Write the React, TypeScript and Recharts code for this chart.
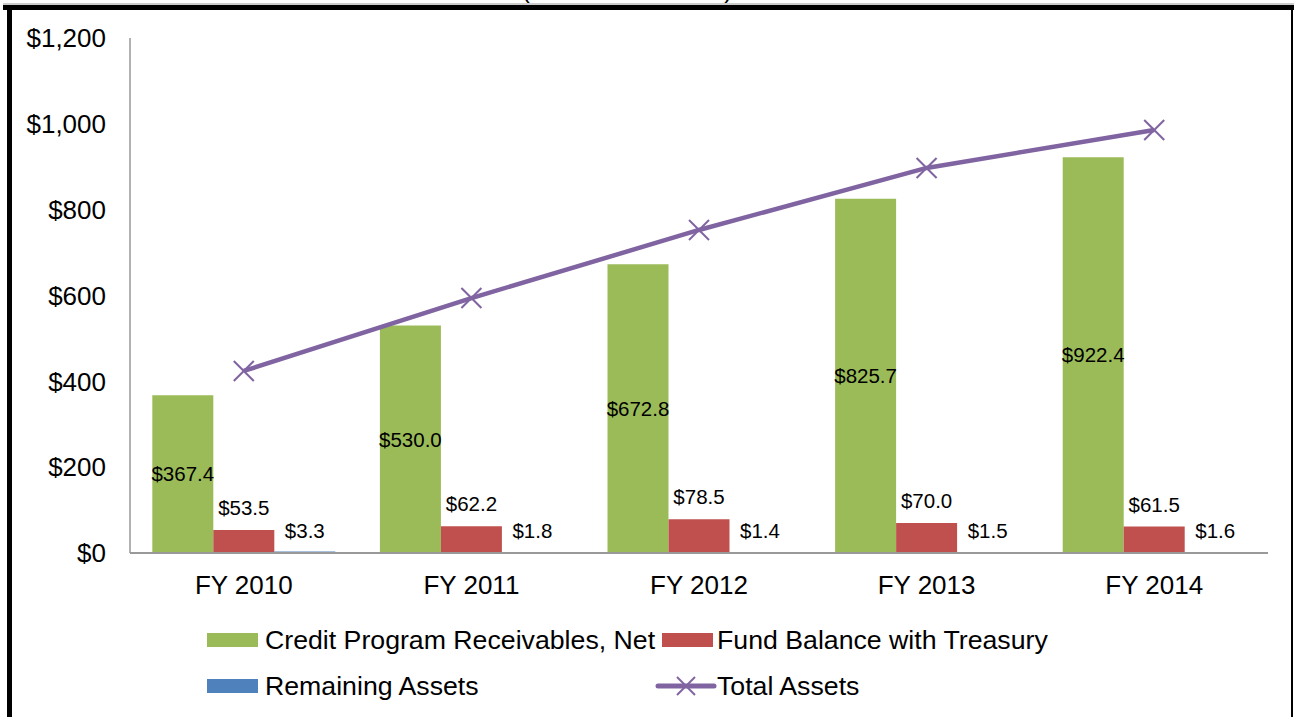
import React from 'react';
import { ComposedChart, Bar, Line, XAxis, YAxis, LabelList, Legend } from 'recharts';

const categories = ['FY 2010', 'FY 2011', 'FY 2012', 'FY 2013', 'FY 2014'];
const creditReceivables = [367.4, 530.0, 672.8, 825.7, 922.4];
const fundBalance = [53.5, 62.2, 78.5, 70.0, 61.5];
const remainingAssets = [3.3, 1.8, 1.4, 1.5, 1.6];
const totalAssets = [424.2, 594.0, 752.7, 897.2, 985.5];
const yTicks = [0, 200, 400, 600, 800, 1000, 1200];

const seriesNames = {
  credit: 'Credit Program Receivables, Net',
  fund: 'Fund Balance with Treasury',
  remaining: 'Remaining Assets',
  total: 'Total Assets',
};

const COLORS = {
  credit: '#9BBB59',
  fund: '#C0504D',
  remaining: '#4F81BD',
  total: '#8064A2',
};

const data = categories.map((c, i) => ({
  name: c,
  credit: creditReceivables[i],
  fund: fundBalance[i],
  remaining: remainingAssets[i],
  total: totalAssets[i],
}));

const FONT = '"Liberation Sans", Arial, sans-serif';

const fmtMoney = (v: number) => `$${Number(v).toFixed(1)}`;
const fmtTick = (v: number) => `$${v.toLocaleString('en-US')}`;

const XDot = (props: any) => {
  const { cx, cy, index } = props;
  if (cx == null || cy == null) return null;
  const s = 10;
  return (
    <g key={`xdot-${index}`}>
      <line x1={cx - s} y1={cy - s} x2={cx + s} y2={cy + s} stroke={COLORS.total} strokeWidth={2} />
      <line x1={cx - s} y1={cy + s} x2={cx + s} y2={cy - s} stroke={COLORS.total} strokeWidth={2} />
    </g>
  );
};

const textStyle: React.CSSProperties = {
  position: 'absolute',
  fontSize: 26.7,
  lineHeight: '30px',
  height: 30,
  color: '#000',
  fontFamily: FONT,
  whiteSpace: 'nowrap',
};

const LegendContent = () => {
  const sw = (left: number, top: number, color: string) => (
    <div style={{ position: 'absolute', left, top, width: 51, height: 14, background: color }} />
  );
  return (
    <div style={{ position: 'relative', width: 1294, height: 90 }}>
      {sw(207, 16, COLORS.credit)}
      <div style={{ ...textStyle, left: 265, top: 8 }}>{seriesNames.credit}</div>
      {sw(662, 16, COLORS.fund)}
      <div style={{ ...textStyle, left: 717, top: 8 }}>{seriesNames.fund}</div>
      {sw(207, 62, COLORS.remaining)}
      <div style={{ ...textStyle, left: 265, top: 54 }}>{seriesNames.remaining}</div>
      <svg style={{ position: 'absolute', left: 655, top: 58 }} width={62} height={22}>
        <line x1={3} y1={11} x2={59} y2={11} stroke={COLORS.total} strokeWidth={5} strokeLinecap="round" />
        <line x1={22} y1={2} x2={40} y2={20} stroke={COLORS.total} strokeWidth={2} />
        <line x1={22} y1={20} x2={40} y2={2} stroke={COLORS.total} strokeWidth={2} />
      </svg>
      <div style={{ ...textStyle, left: 717, top: 54 }}>{seriesNames.total}</div>
    </div>
  );
};

export default function App() {
  return (
    <div style={{ position: 'absolute', left: 0, top: 0, width: 1294, height: 717, background: '#fff', overflow: 'hidden', fontFamily: FONT }}>
      <ComposedChart
        width={1294}
        height={717}
        data={data}
        margin={{ top: 38, right: 26, left: 10, bottom: 134 }}
        barCategoryGap="9.8%"
        barGap={0}
        style={{ fontFamily: FONT }}
      >
        <XAxis
          dataKey="name"
          height={30}
          tickLine={false}
          tickMargin={17}
          axisLine={{ stroke: '#999', strokeWidth: 2 }}
          tick={{ fill: '#000', fontSize: 26, fontFamily: FONT }}
        />
        <YAxis
          width={120}
          domain={[0, 1200]}
          ticks={yTicks}
          tickFormatter={fmtTick}
          tickLine={false}
          tickMargin={18}
          axisLine={{ stroke: '#999', strokeWidth: 1.5 }}
          tick={{ fill: '#000', fontSize: 26, fontFamily: FONT }}
        />
        <Legend
          layout="horizontal"
          verticalAlign="middle"
          align="center"
          wrapperStyle={{ left: 0, top: 617, width: 1294 }}
          content={() => <LegendContent />}
        />
        <Bar dataKey="credit" name={seriesNames.credit} fill={COLORS.credit} isAnimationActive={false}>
          <LabelList dataKey="credit" position="center" formatter={fmtMoney} fill="#000" fontSize={20.5} fontFamily={FONT} />
        </Bar>
        <Bar dataKey="fund" name={seriesNames.fund} fill={COLORS.fund} isAnimationActive={false}>
          <LabelList dataKey="fund" position="top" offset={15} formatter={fmtMoney} fill="#000" fontSize={20.5} fontFamily={FONT} />
        </Bar>
        <Bar dataKey="remaining" name={seriesNames.remaining} fill={COLORS.remaining} isAnimationActive={false}>
          <LabelList dataKey="remaining" position="top" offset={14} formatter={fmtMoney} fill="#000" fontSize={20.5} fontFamily={FONT} />
        </Bar>
        <Line
          dataKey="total"
          name={seriesNames.total}
          stroke={COLORS.total}
          strokeWidth={4.5}
          dot={XDot}
          activeDot={false}
          isAnimationActive={false}
        />
      </ComposedChart>
      <svg style={{ position: 'absolute', left: 0, top: 0, pointerEvents: 'none' }} width={1294} height={717}>
        <text x={627} y={-2} textAnchor="middle" fontSize={25} fontFamily={FONT} fill="#000">(Dollars in Millions)</text>
        <rect x={3} y={3.5} width={1291} height={1} fill="#999" />
        <rect x={3} y={5} width={1291} height={5} fill="#000" />
        <rect x={7} y={5} width={5} height={712} fill="#000" />
        <rect x={1291} y={5} width={2} height={712} fill="#000" />
      </svg>
    </div>
  );
}
